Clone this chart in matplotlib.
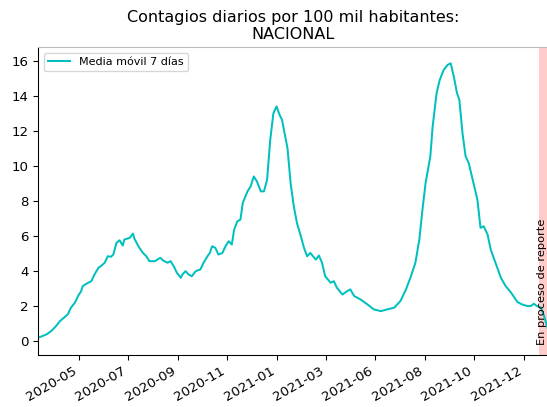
import matplotlib
matplotlib.use("Agg")
import matplotlib.pyplot as plt
import matplotlib.dates as mdates
import pandas as pd

dates = [
    "2020-03-29", "2020-04-09", "2020-04-15", "2020-04-21", "2020-04-26", "2020-05-02",
    "2020-05-06", "2020-05-10", "2020-05-15", "2020-05-19", "2020-05-23", "2020-05-25",
    "2020-06-01", "2020-06-05", "2020-06-09", "2020-06-14", "2020-06-18", "2020-06-22",
    "2020-06-26", "2020-06-30", "2020-07-03", "2020-07-07", "2020-07-11", "2020-07-15",
    "2020-07-17", "2020-07-24", "2020-07-28", "2020-07-30", "2020-08-04", "2020-08-09",
    "2020-08-14", "2020-08-18", "2020-08-25", "2020-08-28", "2020-09-01", "2020-09-04",
    "2020-09-10", "2020-09-14", "2020-09-18", "2020-09-22", "2020-09-27", "2020-09-29",
    "2020-10-03", "2020-10-07", "2020-10-11", "2020-10-16", "2020-10-22", "2020-10-26",
    "2020-10-31", "2020-11-03", "2020-11-06", "2020-11-10", "2020-11-14", "2020-11-19",
    "2020-11-23", "2020-11-27", "2020-12-01", "2020-12-04", "2020-12-08", "2020-12-12",
    "2020-12-15", "2020-12-21", "2020-12-25", "2020-12-29", "2021-01-02", "2021-01-07",
    "2021-01-11", "2021-01-15", "2021-01-19", "2021-01-23", "2021-01-27", "2021-01-31",
    "2021-02-03", "2021-02-05", "2021-02-10", "2021-02-14", "2021-02-18", "2021-02-22",
    "2021-02-27", "2021-03-03", "2021-03-07", "2021-03-11", "2021-03-18", "2021-03-22",
    "2021-03-26", "2021-03-30", "2021-04-06", "2021-04-10", "2021-04-14", "2021-04-21",
    "2021-04-27", "2021-05-01", "2021-05-06", "2021-05-14", "2021-05-23", "2021-05-31",
    "2021-06-09", "2021-06-17", "2021-06-26", "2021-07-04", "2021-07-11", "2021-07-17",
    "2021-07-23", "2021-07-28", "2021-08-01", "2021-08-05", "2021-08-11", "2021-08-14",
    "2021-08-19", "2021-08-23", "2021-08-28", "2021-09-02", "2021-09-06", "2021-09-10",
    "2021-09-14", "2021-09-17", "2021-09-21", "2021-09-25", "2021-09-29", "2021-10-04",
    "2021-10-10", "2021-10-14", "2021-10-18", "2021-10-23", "2021-10-27", "2021-11-02",
    "2021-11-09", "2021-11-15", "2021-11-22", "2021-11-30", "2021-12-06", "2021-12-13",
    "2021-12-17", "2021-12-21", "2021-12-25", "2021-12-30", "2022-01-03", "2022-01-08",
]

media_movil = [
    0.20, 0.40, 0.59, 0.87, 1.15, 1.38,
    1.54, 1.92, 2.20, 2.58, 2.86, 3.15,
    3.34, 3.43, 3.81, 4.19, 4.32, 4.48,
    4.85, 4.82, 4.95, 5.61, 5.76, 5.46,
    5.80, 5.90, 6.14, 5.84, 5.42, 5.08,
    4.85, 4.57, 4.57, 4.66, 4.76, 4.62,
    4.48, 4.57, 4.28, 3.91, 3.62, 3.81,
    4.00, 3.81, 3.71, 4.00, 4.10, 4.48,
    4.85, 5.04, 5.42, 5.33, 4.95, 5.04,
    5.42, 5.71, 5.52, 6.37, 6.84, 6.94,
    7.89, 8.55, 8.83, 9.40, 9.12, 8.55,
    8.55, 9.22, 11.49, 13.00, 13.39, 12.90,
    12.63, 12.16, 11.00, 9.00, 7.70, 6.75,
    5.99, 5.33, 4.85, 5.04, 4.66, 4.89,
    4.48, 3.71, 3.34, 3.43, 3.05, 2.67,
    2.86, 2.96, 2.58, 2.39, 2.10, 1.82,
    1.72, 1.82, 1.92, 2.30, 2.96, 3.67,
    4.48, 5.80, 7.51, 9.03, 10.54, 12.25,
    14.15, 14.90, 15.47, 15.76, 15.85, 15.09,
    14.15, 13.77, 11.87, 10.54, 10.16, 9.22,
    8.08, 6.47, 6.56, 6.09, 5.23, 4.48,
    3.62, 3.15, 2.77, 2.24, 2.10, 2.01,
    2.01, 2.14, 2.01, 1.92, 1.44, 0.70,
]

tick_dates = pd.date_range("2020-05-20", periods=10, freq="63D")
x_start, x_end = "2020-03-29", "2022-01-08"
span_start, span_end = "2021-12-28", "2022-01-12"

titulo = "Contagios diarios por 100 mil habitantes:\nNACIONAL"
etiqueta = "Media móvil 7 días"
texto_span = "En proceso de reporte"

DPI = 96
fig = plt.figure(figsize=(547 / DPI, 407 / DPI), dpi=DPI)
ax = fig.add_axes([38 / 547, 52 / 407, 510 / 547, 308 / 407])

x = pd.to_datetime(dates)
ax.axvspan(pd.Timestamp(span_start), pd.Timestamp(span_end), color="red", alpha=0.2, lw=0)
ax.plot(x, media_movil, color="c", lw=1.5, label=etiqueta)
ax.text(pd.Timestamp("2021-12-31"), -0.2, texto_span, rotation=90,
        ha="center", va="bottom", fontsize=8.5)

ax.set_xlim(pd.Timestamp(x_start), pd.Timestamp(x_end))
ax.set_ylim(-0.78, 16.78)
ax.set_xticks(tick_dates)
ax.xaxis.set_major_formatter(mdates.DateFormatter("%Y-%m"))
ax.tick_params(axis="both", labelsize=10)
for lbl in ax.get_xticklabels():
    lbl.set_rotation(30)
    lbl.set_ha("right")
ax.spines["top"].set_color("#bbbbbb")
ax.set_title(titulo, fontsize=12)
ax.legend(loc="upper left", fontsize="small")

fig.savefig("out.png", dpi=DPI)
